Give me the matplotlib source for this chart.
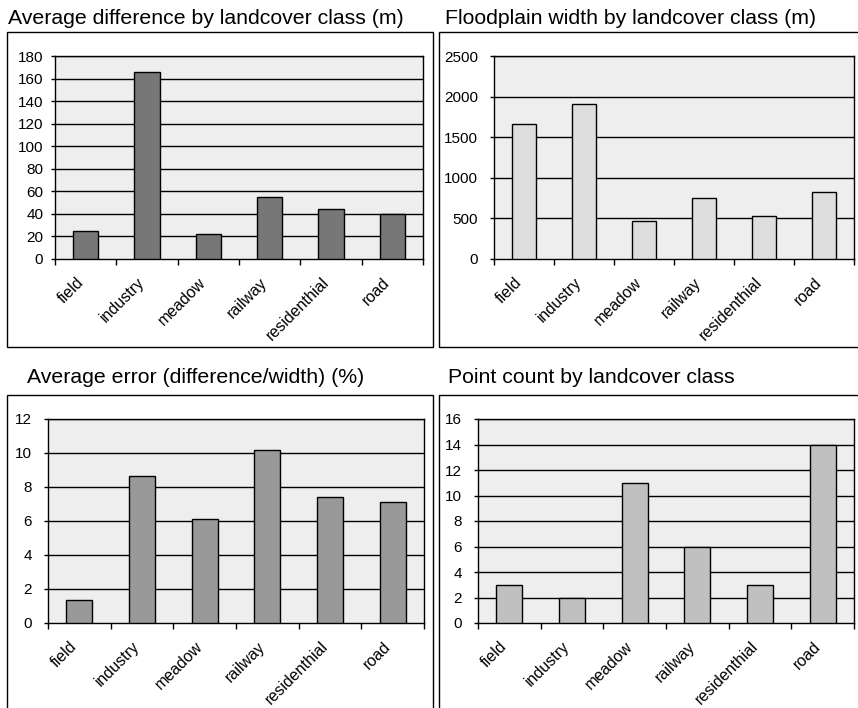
import matplotlib
matplotlib.use("Agg")
import matplotlib.pyplot as plt
from matplotlib.patches import Rectangle
from matplotlib.transforms import ScaledTranslation
import numpy as np

plt.rcParams['font.family'] = ['Liberation Sans', 'DejaVu Sans']

categories = ["field", "industry", "meadow", "railway", "residenthial", "road"]
avg_difference = [25, 166, 22, 55, 44, 40]
floodplain_width = [1668, 1914, 463, 746, 525, 824]
avg_error = [1.37, 8.66, 6.13, 10.19, 7.40, 7.13]
point_count = [3, 2, 11, 6, 3, 14]

titles = ["Average difference by landcover class (m)",
          "Floodplain width by landcover class (m)",
          "Average error (difference/width) (%)",
          "Point count by landcover class"]

W, H = 858, 708
fig = plt.figure(figsize=(W / 100, H / 100), dpi=100)
fig.patch.set_facecolor("white")


def fx(x):
    return x / W


def fy(y):
    return 1 - y / H


def add_frame(x0, y0, x1, y1):
    r = Rectangle((fx(x0), fy(y1)), fx(x1) - fx(x0), fy(y0) - fy(y1),
                  transform=fig.transFigure, fill=False, edgecolor="black",
                  linewidth=1.0, clip_on=False)
    fig.patches.append(r)


add_frame(7, 32, 433, 347)
add_frame(439, 32, 862, 347)
add_frame(7, 395, 433, 712)
add_frame(439, 395, 862, 712)

TF = 15.3
fig.text(fx(8), fy(24), titles[0], fontsize=TF, va="baseline", ha="left")
fig.text(fx(445), fy(24), titles[1], fontsize=TF, va="baseline", ha="left")
fig.text(fx(27), fy(383), titles[2], fontsize=TF, va="baseline", ha="left")
fig.text(fx(448), fy(383), titles[3], fontsize=TF, va="baseline", ha="left")

panels = [
    ((55, 56, 423, 259), avg_difference, 180, 20, "#777777", 5.5),
    ((494, 56, 854, 259), floodplain_width, 2500, 500, "#dedede", 8.5),
    ((48, 419, 424, 623), avg_error, 12, 2, "#999999", 8.5),
    ((478, 419, 854, 623), point_count, 16, 2, "#c0c0c0", 8.5),
]

offset = ScaledTranslation(-10 / 100, -16 / 100, fig.dpi_scale_trans)

for (l, t, r, b), vals, ymax, step, color, ypad in panels:
    ax = fig.add_axes([fx(l), fy(b), fx(r) - fx(l), fy(t) - fy(b)])
    ax.set_facecolor("#eeeeee")
    x = np.arange(len(categories))
    ax.bar(x, vals, width=0.41, color=color, edgecolor="black",
           linewidth=1.0, zorder=3)
    ax.set_xlim(-0.5, len(categories) - 0.5)
    ax.set_ylim(0, ymax)
    yt = np.arange(0, ymax + step / 2, step)
    ax.set_yticks(yt)
    ax.set_yticklabels([f"{v:g}" for v in yt], fontsize=11)
    for v in yt[1:]:
        ax.axhline(v, color="black", linewidth=1.0, zorder=1)
    ax.set_xticks(np.arange(-0.5, len(categories), 1.0))
    ax.set_xticklabels([])
    trans = ax.get_xaxis_transform() + offset
    for xi, cat in zip(x, categories):
        ax.text(xi, 0, cat, transform=trans, rotation=45, ha="right",
                va="top", rotation_mode="anchor", fontsize=11.5,
                clip_on=False)
    ax.tick_params(axis="x", which="major", direction="out", length=4,
                   width=1, color="black")
    ax.tick_params(axis="y", direction="out", length=3, width=1, pad=ypad)
    for s in ax.spines.values():
        s.set_color("black")
        s.set_linewidth(1.0)

fig.savefig("out.png", dpi=100, facecolor="white")
